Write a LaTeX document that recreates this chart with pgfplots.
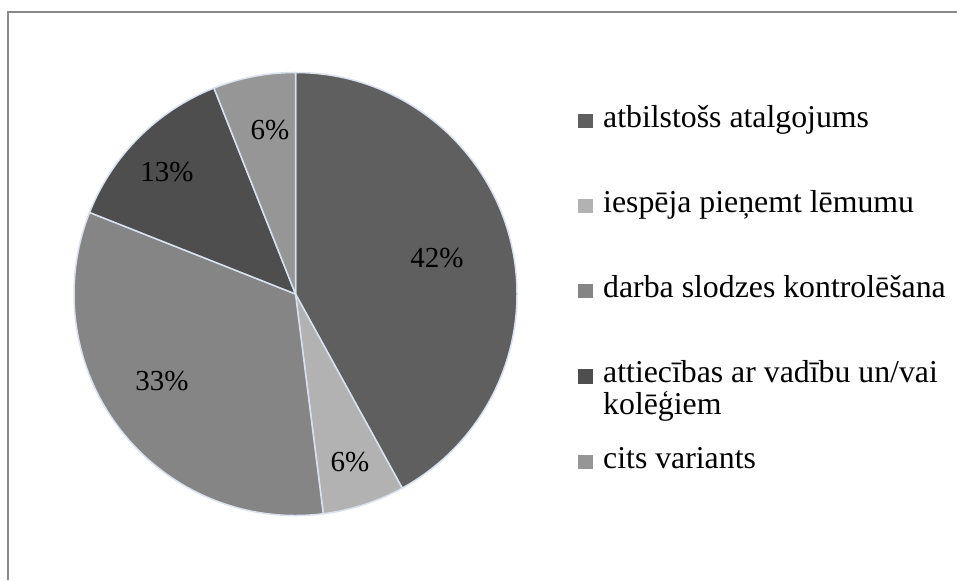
\documentclass[border=0pt]{standalone}
\usepackage{pgfplots}
\pgfplotsset{compat=1.18}
\usepackage{fontspec}
\setmainfont{Liberation Serif}
\definecolor{cA}{HTML}{5F5F5F}
\definecolor{cB}{HTML}{B2B2B2}
\definecolor{cC}{HTML}{858585}
\definecolor{cD}{HTML}{4E4E4E}
\definecolor{cE}{HTML}{969696}
\definecolor{edge}{HTML}{D9E1EE}
\definecolor{framec}{HTML}{898989}
\begin{document}
\begin{tikzpicture}[x=0.5pt,y=0.5pt]
\useasboundingbox (0,0) rectangle (957,580);
\draw[framec, line width=0.75pt] (8,0) -- (8,568) -- (957,568);
% slice values (percent)
\def\vA{42}\def\vB{6}\def\vC{33}\def\vD{13}\def\vE{6}
\pgfmathsetmacro\tot{\vA+\vB+\vC+\vD+\vE}
\pgfmathsetmacro\aA{90}
\pgfmathsetmacro\aB{\aA-360*\vA/\tot}
\pgfmathsetmacro\aC{\aB-360*\vB/\tot}
\pgfmathsetmacro\aD{\aC-360*\vC/\tot}
\pgfmathsetmacro\aE{\aD-360*\vD/\tot}
\pgfmathsetmacro\aF{\aE-360*\vE/\tot}
\begin{axis}[at={(147.75pt,143pt)}, anchor=center, scale only axis,
  width=221.5pt, height=221.5pt, xmin=-1, xmax=1, ymin=-1, ymax=1,
  hide axis, clip=false,
  legend cell align=left,
  legend style={at={(axis description cs:1.1377,0.972)}, anchor=north west,
    draw=none, fill=none, inner sep=0pt, row sep=0pt, column sep=5pt,
    nodes={inner sep=0pt, text height=21.25pt, text depth=21.25pt},
    font=\fontsize{15.9pt}{16pt}\selectfont}]
\fill[cA, draw=edge, line width=0.75pt] (axis cs:0,0) -- (axis cs:{cos(\aA)},{sin(\aA)}) arc[start angle=\aA, end angle=\aB, radius=110.75pt] -- cycle;
\fill[cB, draw=edge, line width=0.75pt] (axis cs:0,0) -- (axis cs:{cos(\aB)},{sin(\aB)}) arc[start angle=\aB, end angle=\aC, radius=110.75pt] -- cycle;
\fill[cC, draw=edge, line width=0.75pt] (axis cs:0,0) -- (axis cs:{cos(\aC)},{sin(\aC)}) arc[start angle=\aC, end angle=\aD, radius=110.75pt] -- cycle;
\fill[cD, draw=edge, line width=0.75pt] (axis cs:0,0) -- (axis cs:{cos(\aD)},{sin(\aD)}) arc[start angle=\aD, end angle=\aE, radius=110.75pt] -- cycle;
\fill[cE, draw=edge, line width=0.75pt] (axis cs:0,0) -- (axis cs:{cos(\aE)},{sin(\aE)}) arc[start angle=\aE, end angle=\aF, radius=110.75pt] -- cycle;
\begin{scope}[font=\fontsize{14.5pt}{17pt}\selectfont]
\node at (axis cs:0.639,0.163) {42\%};
\node at (axis cs:0.246,-0.758) {6\%};
\node at (axis cs:-0.603,-0.393) {33\%};
\node at (axis cs:-0.580,0.551) {13\%};
\node at (axis cs:-0.115,0.740) {6\%};
\end{scope}
\addlegendimage{legend image code/.code={\fill[cA] (0pt,0.1pt) rectangle (7pt,6.9pt);}}
\addlegendentry{atbilstošs atalgojums}
\addlegendimage{legend image code/.code={\fill[cB] (0pt,0.1pt) rectangle (7pt,6.9pt);}}
\addlegendentry{iespēja pieņemt lēmumu}
\addlegendimage{legend image code/.code={\fill[cC] (0pt,0.1pt) rectangle (7pt,6.9pt);}}
\addlegendentry{darba slodzes kontrolēšana}
\addlegendimage{legend image code/.code={\fill[cD] (0pt,0.1pt) rectangle (7pt,6.9pt);}}
\addlegendentry[text depth=21.75pt]{\parbox[t]{200pt}{\baselineskip=16pt\lineskiplimit=-100pt attiecības ar vadību un/vai\\kolēģiem}}
\addlegendimage{legend image code/.code={\fill[cE] (0pt,0.1pt) rectangle (7pt,6.9pt);}}
\addlegendentry{cits variants}
\end{axis}
\end{tikzpicture}
\end{document}
